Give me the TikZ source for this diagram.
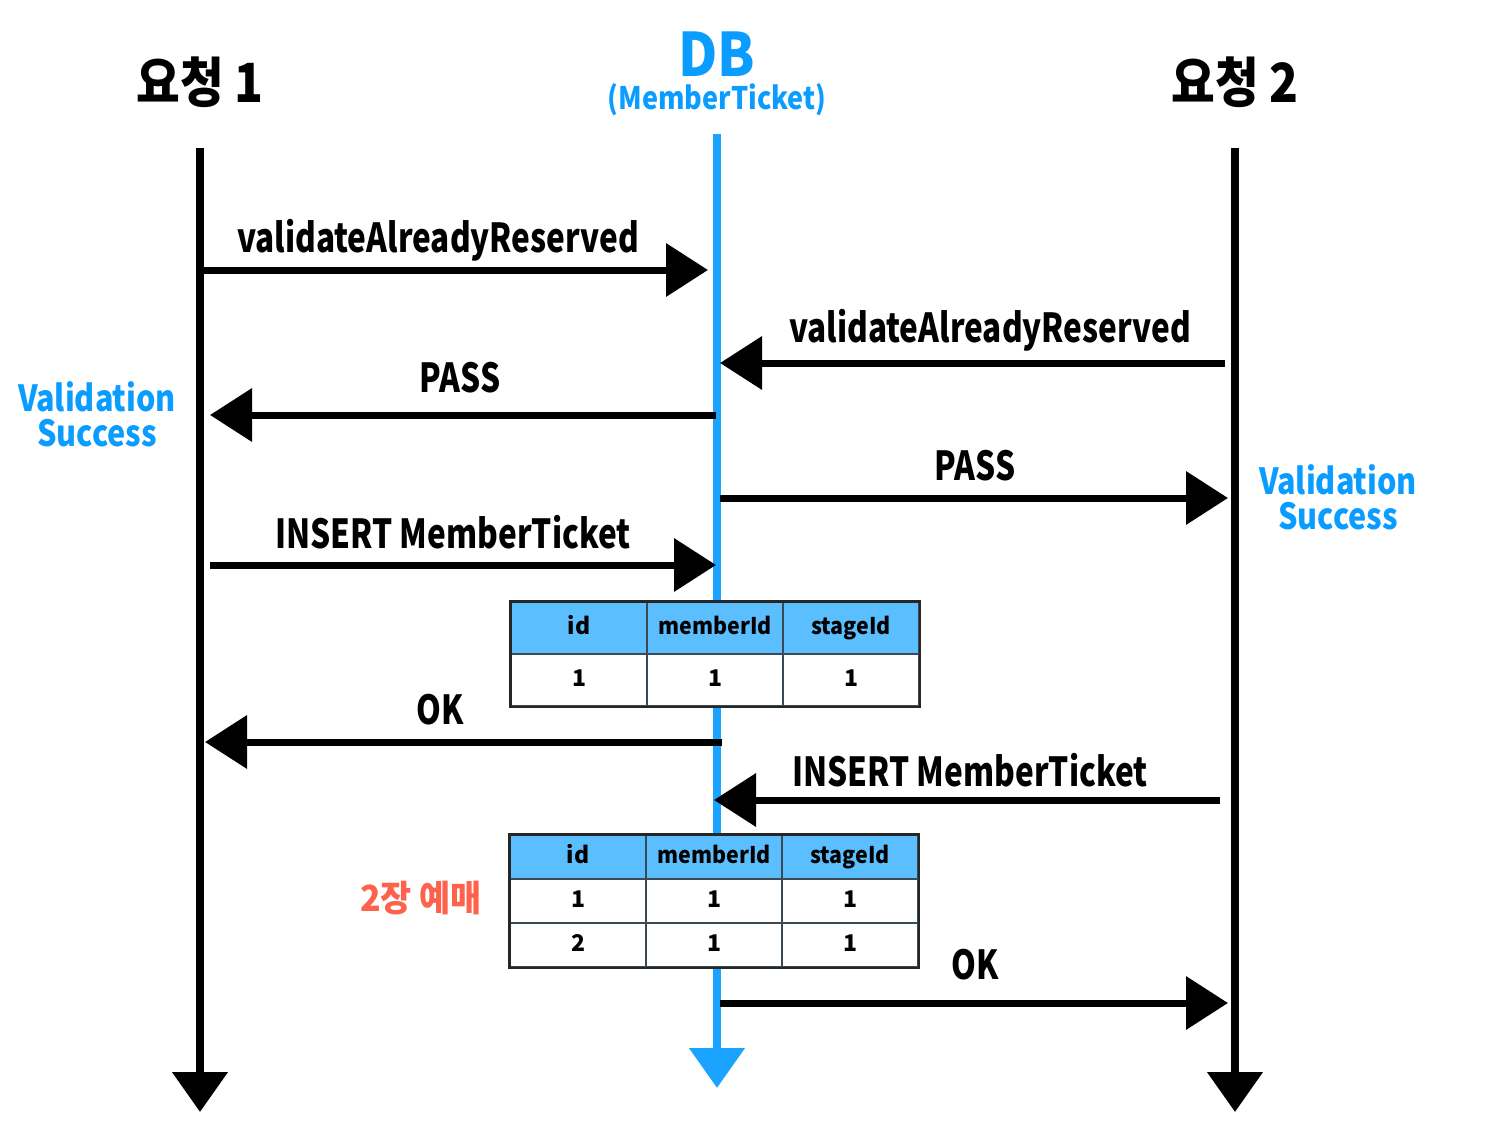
\documentclass[tikz,border=0pt]{standalone}
\usepackage{fontspec}
\usepackage{graphicx}
\setmainfont{Noto Sans CJK KR}
\usetikzlibrary{arrows.meta}
\definecolor{dbblue}{HTML}{0A9DFF}
\definecolor{lineblue}{HTML}{1AA3FF}
\definecolor{hdr}{HTML}{5BBFFF}
\definecolor{redlbl}{HTML}{FF624C}
\definecolor{grid}{HTML}{3A4A55}
\newcommand{\sx}[2]{\scalebox{#1}[1]{#2}}
\newcommand{\nar}[1]{\sx{0.79}{#1}}
\begin{document}
\begin{tikzpicture}[x=1pt,y=-1pt,
  life/.style={line width=8pt, -{Triangle[length=40pt,width=54pt]}},
  msg/.style={line width=7pt, -{Triangle[length=42pt,width=52pt]}},
  lbl/.style={inner sep=0pt, font=\bfseries\fontsize{40}{44}\selectfont},
  ttl/.style={inner sep=0pt, font=\bfseries\fontsize{54}{58}\selectfont},
  vs/.style={inner sep=0pt, align=center, text=dbblue, font=\bfseries\fontsize{36}{38}\selectfont},
  cellbase/.style={draw=grid, line width=1.5pt, inner sep=0pt, text height=17pt, text depth=5pt, font=\bfseries\fontsize{23}{26}\selectfont},
  hcell/.style={cellbase, fill=hdr},
  bcell/.style={cellbase, fill=white},
]
\useasboundingbox (0,0) rectangle (1510,1145);

% titles
\node[ttl] (r1) at (200,82) {\sx{0.88}{요청 1}};
\node[ttl] (r2) at (1235,82) {\sx{0.88}{요청 2}};
\node[inner sep=0pt, text=dbblue, font=\bfseries\fontsize{60}{64}\selectfont] (db) at (717,54) {\sx{0.9}{DB}};
\node[inner sep=0pt, text=dbblue, font=\bfseries\fontsize{31}{34}\selectfont] (dbs) at (717,100) {\sx{0.87}{(MemberTicket)}};

% lifelines
\coordinate (l1t) at (200,148); \coordinate (l1b) at (200,1112);
\coordinate (l2t) at (717,134); \coordinate (l2b) at (717,1088);
\coordinate (l3t) at (1235,148); \coordinate (l3b) at (1235,1112);
\draw[life] (l1t) -- (l1b);
\draw[life, draw=lineblue, fill=lineblue] (l2t) -- (l2b);
\draw[life] (l3t) -- (l3b);

% messages
\coordinate (m1s) at (200,270); \coordinate (m1e) at (708,270);
\draw[msg] (m1s) -- (m1e);
\node[lbl] (t1) at (438,240) {\nar{validateAlreadyReserved}};

\coordinate (m2s) at (1225,363); \coordinate (m2e) at (720,363);
\draw[msg] (m2s) -- (m2e);
\node[lbl] (t2) at (990,330) {\nar{validateAlreadyReserved}};

\coordinate (m3s) at (716,415); \coordinate (m3e) at (210,415);
\draw[msg] (m3s) -- (m3e);
\node[lbl] (t3) at (460,378) {\nar{PASS}};

\coordinate (m4s) at (720,498); \coordinate (m4e) at (1228,498);
\draw[msg] (m4s) -- (m4e);
\node[lbl] (t4) at (975,466) {\nar{PASS}};

\coordinate (m5s) at (210,565); \coordinate (m5e) at (716,565);
\draw[msg] (m5s) -- (m5e);
\node[lbl] (t5) at (453,532) {\nar{INSERT MemberTicket}};

\coordinate (m6s) at (722,742); \coordinate (m6e) at (205,742);
\draw[msg] (m6s) -- (m6e);
\node[lbl] (t6) at (440,710) {\nar{OK}};

\coordinate (m7s) at (1220,800); \coordinate (m7e) at (714,800);
\draw[msg] (m7s) -- (m7e);
\node[lbl] (t7) at (970,770) {\nar{INSERT MemberTicket}};

\coordinate (m8s) at (720,1003); \coordinate (m8e) at (1228,1003);
\draw[msg] (m8s) -- (m8e);
\node[lbl] (t8) at (975,965) {\nar{OK}};

% side labels
\node[vs] (vs1) at (97,414) {\sx{0.85}{Validation}\\[-3pt]\sx{0.85}{Success}};
\node[vs] (vs2) at (1338,497) {\sx{0.85}{Validation}\\[-3pt]\sx{0.85}{Success}};
\node[inner sep=0pt, text=redlbl, font=\bfseries\fontsize{36}{40}\selectfont] (two) at (421,898) {\sx{0.94}{2장 예매}};

% table 1
\node[hcell, minimum width=136pt, minimum height=52pt] (a11) at (579,628) {id};
\node[hcell, minimum width=136pt, minimum height=52pt] (a12) at (715,628) {\sx{0.93}{memberId}};
\node[hcell, minimum width=136pt, minimum height=52pt] (a13) at (851,628) {\sx{0.93}{stageId}};
\node[bcell, minimum width=136pt, minimum height=52pt] (a21) at (579,680) {1};
\node[bcell, minimum width=136pt, minimum height=52pt] (a22) at (715,680) {1};
\node[bcell, minimum width=136pt, minimum height=52pt] (a23) at (851,680) {1};
\draw[line width=2.5pt, black!85] (a11.north west) rectangle (a23.south east);

% table 2
\node[hcell, minimum width=136pt, minimum height=44pt] (b11) at (578,857) {id};
\node[hcell, minimum width=136pt, minimum height=44pt] (b12) at (714,857) {\sx{0.93}{memberId}};
\node[hcell, minimum width=136pt, minimum height=44pt] (b13) at (850,857) {\sx{0.93}{stageId}};
\node[bcell, minimum width=136pt, minimum height=44pt] (b21) at (578,901) {1};
\node[bcell, minimum width=136pt, minimum height=44pt] (b22) at (714,901) {1};
\node[bcell, minimum width=136pt, minimum height=44pt] (b23) at (850,901) {1};
\node[bcell, minimum width=136pt, minimum height=44pt] (b31) at (578,945) {2};
\node[bcell, minimum width=136pt, minimum height=44pt] (b32) at (714,945) {1};
\node[bcell, minimum width=136pt, minimum height=44pt] (b33) at (850,945) {1};
\draw[line width=2.5pt, black!85] (b11.north west) rectangle (b33.south east);
\end{tikzpicture}
\end{document}
